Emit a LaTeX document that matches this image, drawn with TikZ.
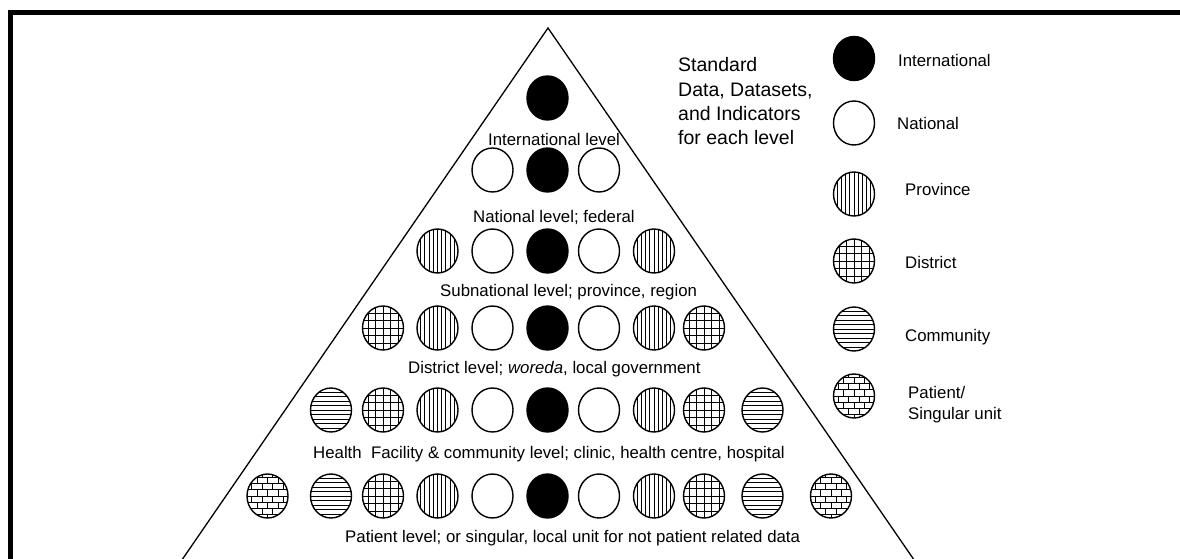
\documentclass[tikz,border=0pt]{standalone}
\usepackage{fontspec}
\setmainfont{Liberation Sans}
\usetikzlibrary{shapes.geometric}

\tikzset{
  kind/.style={#1},
  pl/.style={line width=0.9pt},
  token/.style={ellipse, draw, line width=1.4pt, minimum width=41pt,
    minimum height=44pt, inner sep=0pt},
  intl/.style={token, fill=black},
  natl/.style={token, fill=white},
  prov/.style={token, path picture={
    \foreach \i in {-5,...,5}
      \draw[pl] ([xshift=\i*4.2pt]path picture bounding box.north)
        -- ([xshift=\i*4.2pt]path picture bounding box.south);}},
  dist/.style={token, path picture={
    \foreach \i in {-3,...,3}{
      \draw[pl] ([xshift=\i*7.5pt]path picture bounding box.north)
        -- ([xshift=\i*7.5pt]path picture bounding box.south);
      \draw[pl] ([yshift=\i*7.5pt]path picture bounding box.west)
        -- ([yshift=\i*7.5pt]path picture bounding box.east);}}},
  comm/.style={token, path picture={
    \foreach \i in {-5,...,5}
      \draw[pl] ([yshift=\i*4.5pt]path picture bounding box.west)
        -- ([yshift=\i*4.5pt]path picture bounding box.east);}},
  pat/.style={token, path picture={
    \foreach \j in {-4,...,4}
      \draw[pl] ([yshift=\j*6.3pt]path picture bounding box.west)
        -- ([yshift=\j*6.3pt]path picture bounding box.east);
    \foreach \j [evaluate=\j as \o using {mod(\j+10,2)*5.25}] in {-4,...,3}
      \foreach \k in {-3,...,3}
        \draw[pl] ([xshift={(\k*10.5+\o)*1pt}, yshift=\j*6.3pt]path picture bounding box.center)
          -- ++(0pt,6.3pt);}},
  lvl/.style={anchor=base west, inner sep=0pt, font=\fontsize{16.8}{19}\selectfont},
  key/.style={anchor=base west, inner sep=0pt, align=left,
    font=\fontsize{16.8}{21}\selectfont},
}

\begin{document}
\begin{tikzpicture}[x=1pt, y=-1pt]
\useasboundingbox (0,0) rectangle (1180,559);
\clip (0,0) rectangle (1180,559);

% outer frame (only its top and left edges fall inside the page)
\draw[line width=5pt] (10,13) rectangle (1300,700);

% pyramid
\coordinate (apex) at (548,28);
\coordinate (bl) at (175,570);
\coordinate (br) at (921,570);
\draw[line width=1.3pt] (bl) -- (apex) -- (br);

% level 1: international
\node[intl] (r1-1) at (547.5,98) {};
\node[lvl] (l1) at (488,146) {International level};

% level 2: national
\foreach \s/\x [count=\n] in {natl/492.5, intl/547.5, natl/599}
  \node[kind/.expanded=\s] (r2-\n) at (\x,170) {};
\node[lvl] (l2) at (473,222) {National level; federal};

% level 3: subnational
\foreach \s/\x [count=\n] in {prov/437.5, natl/492.5, intl/547.5, natl/599, prov/654}
  \node[kind/.expanded=\s] (r3-\n) at (\x,251) {};
\node[lvl] (l3) at (440,296) {Subnational level; province, region};

% level 4: district
\foreach \s/\x [count=\n] in {dist/383, prov/437.5, natl/492.5, intl/547.5,
    natl/599, prov/654, dist/704}
  \node[kind/.expanded=\s] (r4-\n) at (\x,328) {};
\node[lvl] (l4) at (408,373) {District level; \textit{woreda}, local government};

% level 5: health facility & community
\foreach \s/\x [count=\n] in {comm/331, dist/383, prov/437.5, natl/492.5, intl/547.5,
    natl/599, prov/654, dist/704, comm/762.5}
  \node[kind/.expanded=\s] (r5-\n) at (\x,410) {};
\node[lvl] (l5) at (313,458) {Health\ \ Facility \& community level; clinic, health centre, hospital};

% level 6: patient
\foreach \s/\x [count=\n] in {pat/267.5, comm/331, dist/383, prov/437.5, natl/492.5,
    intl/547.5, natl/599, prov/654, dist/704, comm/762.5, pat/831}
  \node[kind/.expanded=\s] (r6-\n) at (\x,496) {};
\node[lvl] (l6) at (345,542) {Patient level; or singular, local unit for not patient related data};

% heading (anchored on the baseline of its last line)
\node[anchor=base west, inner sep=0pt, align=left,
  font=\fontsize{19.5}{24.4}\selectfont] (title) at (678,145)
  {Standard\\Data, Datasets,\\and Indicators\\for each level};

% legend
\node[intl] (k1) at (854,58.5) {};
\node[natl] (k2) at (854,123) {};
\node[prov] (k3) at (854,194) {};
\node[dist] (k4) at (854,261) {};
\node[comm] (k5) at (854,329) {};
\node[pat]  (k6) at (854,396) {};
\node[key] (t1) at (898,67)  {International};
\node[key] (t2) at (897,130) {National};
\node[key] (t3) at (905,195) {Province};
\node[key] (t4) at (905,268) {District};
\node[key] (t5) at (905,341) {Community};
\node[key] (t6) at (908,419) {Patient/\\Singular unit};
\end{tikzpicture}
\end{document}
